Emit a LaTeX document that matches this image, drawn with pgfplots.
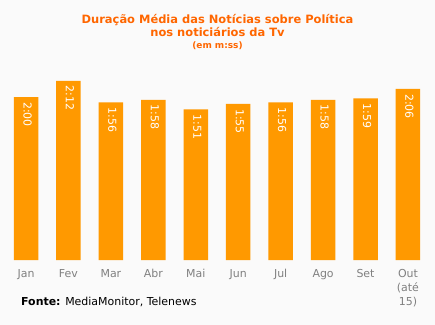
\documentclass[border=0pt]{standalone}
\usepackage{pgfplots}
\pgfplotsset{compat=1.18}
\usepackage{pgfplotstable}
\usepackage{fontspec}
\setmainfont{DejaVu Sans}
\definecolor{bg}{HTML}{FAFAFA}
\definecolor{bar}{HTML}{FF9900}
\definecolor{ttl}{HTML}{FF6600}
\definecolor{tick}{HTML}{808080}
\pgfplotstableread{
x y lab
0 120 2:00
1 132 2:12
2 116 1:56
3 118 1:58
4 111 1:51
5 115 1:55
6 116 1:56
7 118 1:58
8 119 1:59
9 126 2:06
}\dados
\begin{document}
\begin{tikzpicture}
\fill[bg] (0,0) rectangle (435bp,325bp);
\useasboundingbox (0,0) rectangle (435bp,325bp);
\begin{axis}[
  at={(4.78bp,65bp)}, anchor=south west,
  scale only axis, width=424.4bp, height=190.1bp,
  xmin=-0.5, xmax=9.5, ymin=0, ymax=140,
  axis line style={draw=none},
  ytick=\empty,
  xtick={0,...,9},
  xticklabels={Jan,Fev,Mar,Abr,Mai,Jun,Jul,Ago,Set,{Out\\(até\\15)}},
  major tick length=0pt,
  xticklabel style={align=center, font=\fontsize{11}{14}\selectfont, text=tick, anchor=north, yshift=-6bp},
  clip=false,
]
\addplot[ybar, bar width=24.5bp, fill=bar, draw=none,
  point meta=explicit symbolic,
  nodes near coords,
  every node near coord/.append style={rotate=-90, anchor=west, text=white, font=\fontsize{11}{13}\selectfont, xshift=5bp, yshift=1.5bp, inner sep=0pt}
] table[x=x, y=y, meta=lab] {\dados};
\end{axis}
\node[anchor=base, text=ttl, font=\bfseries\fontsize{11.5}{13}\selectfont] at (217.5bp,301bp) {Duração Média das Notícias sobre Política};
\node[anchor=base, text=ttl, font=\bfseries\fontsize{11.5}{13}\selectfont] at (217.5bp,288bp) {nos noticiários da Tv};
\node[anchor=base, text=ttl, font=\bfseries\fontsize{9}{10}\selectfont] at (217.5bp,276bp) {(em m:ss)};
\node[anchor=base west, inner sep=0pt, font=\fontsize{11}{13}\selectfont] at (21bp,20bp) {\textbf{Fonte:} MediaMonitor, Telenews};
\end{tikzpicture}
\end{document}
